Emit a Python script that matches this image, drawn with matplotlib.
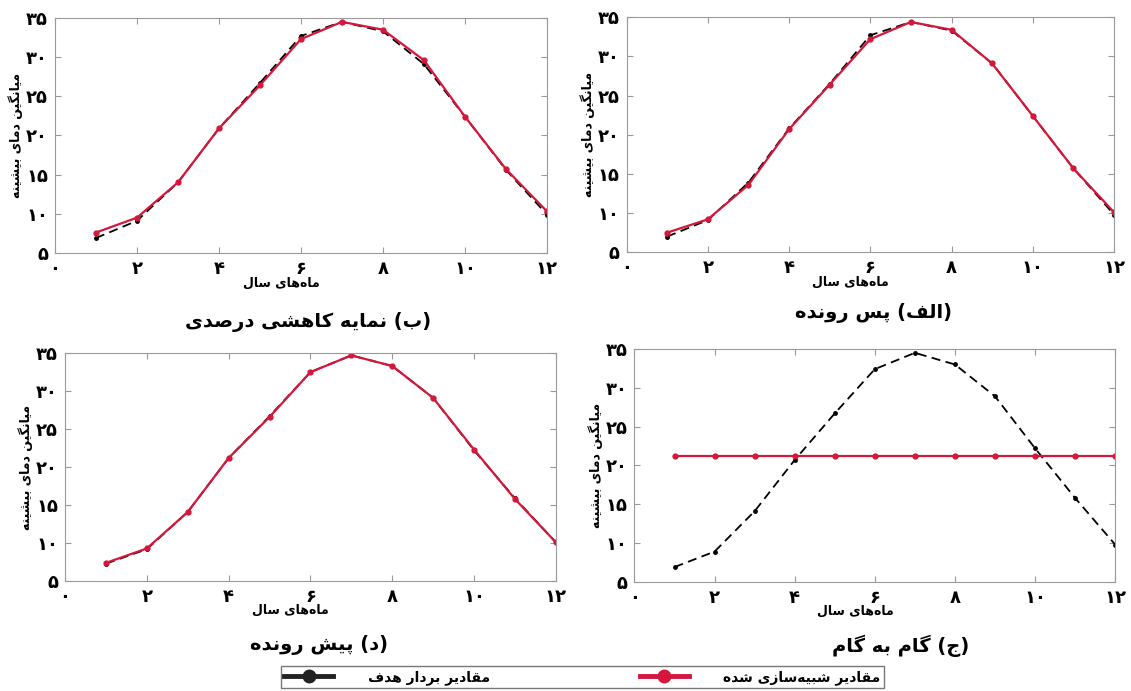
# %%

import matplotlib
matplotlib.use('Agg')
import matplotlib.pyplot as plt
from matplotlib.lines import Line2D

plt.rcParams['font.family'] = ['DejaVu Sans']

months = [1, 2, 3, 4, 5, 6, 7, 8, 9, 10, 11, 12]

# مقادیر هدف (خط چین سیاه) برای هر روش، خوانده شده از تصویر
hadaf_b = [6.9, 9.1, 14.0, 20.9, 26.7, 32.7, 34.5, 33.3, 29.1, 22.4, 15.6, 9.9]
hadaf_alef = [7.0, 9.1, 13.9, 20.8, 26.5, 32.7, 34.4, 33.3, 29.1, 22.4, 15.7, 9.8]
hadaf_d = [7.3, 9.2, 14.1, 21.2, 26.7, 32.5, 34.7, 33.3, 29.1, 22.2, 15.9, 10.1]
hadaf_j = [6.9, 8.9, 14.1, 20.7, 26.7, 32.4, 34.5, 33.0, 28.9, 22.2, 15.8, 9.8]

# مقادیر شبیه سازی شده (قرمز)
shabih_b = [7.6, 9.5, 14.0, 20.9, 26.4, 32.3, 34.5, 33.5, 29.6, 22.4, 15.7, 10.3]
shabih_alef = [7.5, 9.2, 13.6, 20.7, 26.4, 32.2, 34.4, 33.4, 29.1, 22.4, 15.7, 10.1]
shabih_d = [7.4, 9.3, 14.1, 21.2, 26.6, 32.5, 34.7, 33.3, 29.1, 22.3, 15.8, 10.1]
shabih_j = [21.2] * 12

xticks = [0, 2, 4, 6, 8, 10, 12]
yticks = [5, 10, 15, 20, 25, 30, 35]

onvan = ['(ب) نمایه کاهشی درصدی', '(الف) پس رونده', '(د) پیش رونده', '(ج) گام به گام']
ylabel = 'میانگین دمای بیشینه'
xlabel = 'ماه\u200cهای سال'
leg_hadaf = 'مقادیر بردار هدف'
leg_shabih = 'مقادیر شبیه\u200cسازی شده'

# شکل های حروف فارسی: جدا، پایانی، آغازی، میانی
FORMS = {
    '\u0627': ('\uFE8D', '\uFE8E', None, None),
    '\u0628': ('\uFE8F', '\uFE90', '\uFE91', '\uFE92'),
    '\u067E': ('\uFB56', '\uFB57', '\uFB58', '\uFB59'),
    '\u062C': ('\uFE9D', '\uFE9E', '\uFE9F', '\uFEA0'),
    '\u062F': ('\uFEA9', '\uFEAA', None, None),
    '\u0631': ('\uFEAD', '\uFEAE', None, None),
    '\u0632': ('\uFEAF', '\uFEB0', None, None),
    '\u0633': ('\uFEB1', '\uFEB2', '\uFEB3', '\uFEB4'),
    '\u0634': ('\uFEB5', '\uFEB6', '\uFEB7', '\uFEB8'),
    '\u0635': ('\uFEB9', '\uFEBA', '\uFEBB', '\uFEBC'),
    '\u0641': ('\uFED1', '\uFED2', '\uFED3', '\uFED4'),
    '\u0642': ('\uFED5', '\uFED6', '\uFED7', '\uFED8'),
    '\u06A9': ('\uFB8E', '\uFB8F', '\uFB90', '\uFB91'),
    '\u06AF': ('\uFB92', '\uFB93', '\uFB94', '\uFB95'),
    '\u0644': ('\uFEDD', '\uFEDE', '\uFEDF', '\uFEE0'),
    '\u0645': ('\uFEE1', '\uFEE2', '\uFEE3', '\uFEE4'),
    '\u0646': ('\uFEE5', '\uFEE6', '\uFEE7', '\uFEE8'),
    '\u0647': ('\uFEE9', '\uFEEA', '\uFEEB', '\uFEEC'),
    '\u0648': ('\uFEED', '\uFEEE', None, None),
    '\u06CC': ('\uFBFC', '\uFBFD', '\uFBFE', '\uFBFF'),
}


def fa(text):
    text = text.replace('\u064A', '\u06CC').replace('\u0643', '\u06A9')
    out = []
    for i, ch in enumerate(text):
        if ch not in FORMS:
            if ch != '\u200c':
                out.append(ch)
            continue
        prev = text[i - 1] if i > 0 else ''
        nxt = text[i + 1] if i < len(text) - 1 else ''
        jp = prev in FORMS and FORMS[prev][2] is not None
        jn = FORMS[ch][2] is not None and nxt in FORMS
        if jp and jn:
            out.append(FORMS[ch][3])
        elif jp:
            out.append(FORMS[ch][1])
        elif jn:
            out.append(FORMS[ch][2])
        else:
            out.append(FORMS[ch][0])
    vis = ''.join(reversed(out))
    return vis.translate(str.maketrans('()', ')('))


def ragham(v):
    return str(v).translate(str.maketrans('0123456789', '۰۱۲۳۴۵۶۷۸۹'))


red = '#d5173b'

fig = plt.figure(figsize=(11.31, 6.91), dpi=100)
positions = [[0.0486, 0.634, 0.435, 0.340],
             [0.554, 0.635, 0.431, 0.340],
             [0.0575, 0.159, 0.434, 0.330],
             [0.561, 0.158, 0.425, 0.337]]
hadaf = [hadaf_b, hadaf_alef, hadaf_d, hadaf_j]
shabih = [shabih_b, shabih_alef, shabih_d, shabih_j]
title_xy = [(0.272, 0.534), (0.772, 0.547), (0.282, 0.066), (0.796, 0.066)]

for k in range(4):
    ax = fig.add_axes(positions[k])
    ax.plot(months, hadaf[k], color='black', ls=(0, (5, 3)), lw=1.3, marker='o', ms=2.5)
    ax.plot(months, shabih[k], color=red, ls='-', lw=1.6, marker='o', ms=3.5)
    ax.set_xlim(0, 12)
    ax.set_ylim(5, 35)
    ax.set_xticks(xticks)
    ax.set_yticks(yticks)
    ax.set_xticklabels([ragham(t) for t in xticks], fontsize=13, fontweight='bold')
    ax.set_yticklabels([ragham(t) for t in yticks], fontsize=13, fontweight='bold')
    ax.tick_params(direction='in', top=True, right=True, length=4, color='#999999', pad=5)
    for s in ax.spines.values():
        s.set_color('#9a9a9a')
        s.set_linewidth(0.8)
    ax.set_xlabel(fa(xlabel), fontsize=9, fontweight='bold', labelpad=-2)
    ax.xaxis.set_label_coords(0.46, -0.1)
    ax.set_ylabel(fa(ylabel), fontsize=9, fontweight='bold', labelpad=2)
    fig.text(title_xy[k][0], title_xy[k][1], fa(onvan[k]), fontsize=14,
             fontweight='bold', ha='center', va='center')

handles = [Line2D([], [], color='#222222', lw=3.5, marker='o', ms=9),
           Line2D([], [], color=red, lw=3.5, marker='o', ms=9)]
fig.legend(handles, [fa(leg_hadaf), fa(leg_shabih)], ncol=2, loc='center',
           bbox_to_anchor=(0.515, 0.02), fancybox=False, edgecolor='#555555',
           prop={'size': 10, 'weight': 'bold'}, handlelength=3.5, numpoints=1,
           columnspacing=10.8, borderpad=0.25, handletextpad=2.5)

fig.savefig('out.png', dpi=100)

# %%
